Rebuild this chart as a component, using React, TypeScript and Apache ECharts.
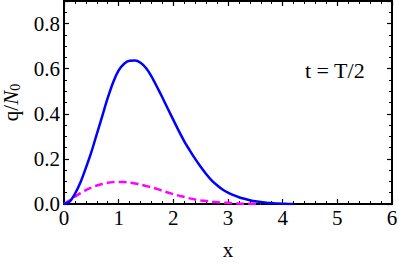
import React, { useEffect, useRef } from "react";
import * as echarts from "echarts";

const xs = [0, 0.1, 0.2, 0.3, 0.4, 0.5, 0.6, 0.7, 0.8, 0.9, 1.0, 1.1, 1.2, 1.3, 1.4, 1.5, 1.6, 1.7, 1.8, 1.9, 2.0, 2.1, 2.2, 2.3, 2.4, 2.5, 2.6, 2.7, 2.8, 2.9, 3.0, 3.1, 3.2, 3.3, 3.4, 3.5, 3.6, 3.7, 3.8, 3.9, 4.0, 4.1, 4.2];
const blueVals = [0, 0.01, 0.045, 0.095, 0.16, 0.23, 0.31, 0.39, 0.47, 0.54, 0.592, 0.622, 0.635, 0.636, 0.626, 0.603, 0.566, 0.52, 0.472, 0.422, 0.373, 0.324, 0.278, 0.238, 0.2, 0.165, 0.133, 0.105, 0.083, 0.064, 0.05, 0.039, 0.03, 0.023, 0.017, 0.012, 0.009, 0.006, 0.004, 0.002, 0.001, 0.0005, 0];
const magentaVals = [0, 0.015, 0.032, 0.048, 0.062, 0.073, 0.082, 0.089, 0.094, 0.097, 0.098, 0.097, 0.095, 0.091, 0.086, 0.08, 0.074, 0.067, 0.059, 0.051, 0.044, 0.037, 0.031, 0.025, 0.02, 0.016, 0.013, 0.01, 0.008, 0.006, 0.005, 0.0035, 0.002, 0.0015, 0.001, 0.0005, 0];
const xTicks = [0, 1, 2, 3, 4, 5, 6];
const yTickLabels = ["0.0", "0.2", "0.4", "0.6", "0.8"];
const annotation = "t = T/2";

const FONT = "Liberation Serif";

export default function App() {
  const ref = useRef<HTMLDivElement>(null);
  useEffect(() => {
    if (!ref.current) return;
    const chart = echarts.init(ref.current, null, { renderer: "svg" });
    const tickCommon = {
      axisLine: { show: true, onZero: false, lineStyle: { color: "#000", width: 2 } },
      axisTick: { show: true, inside: true, length: 5, lineStyle: { color: "#000", width: 1.2 } },
      minorTick: { show: true, length: 3, lineStyle: { color: "#000", width: 1 } },
      splitLine: { show: false },
    };
    chart.setOption({
      animation: false,
      textStyle: { fontFamily: FONT },
      grid: { left: 64, right: 7, top: 1, bottom: 61, containLabel: false, outerBoundsMode: "none" },
      xAxis: [
        {
          type: "value", min: xTicks[0], max: xTicks[xTicks.length - 1], interval: 1,
          position: "bottom",
          ...tickCommon,
          minorTick: { ...tickCommon.minorTick, splitNumber: 5 },
          axisLabel: { fontFamily: FONT, fontSize: 21, color: "#000", margin: 3, formatter: (v: number) => String(v) },
          name: "x", nameLocation: "middle", nameGap: 35,
          nameTextStyle: { fontFamily: FONT, fontSize: 21, color: "#000" },
        },
        {
          type: "value", min: xTicks[0], max: xTicks[xTicks.length - 1], interval: 1,
          position: "top",
          ...tickCommon,
          minorTick: { ...tickCommon.minorTick, splitNumber: 5 },
          axisLabel: { show: false },
        },
      ],
      yAxis: [
        {
          type: "value", min: 0, max: 0.9, interval: 0.2,
          position: "left",
          ...tickCommon,
          minorTick: { ...tickCommon.minorTick, splitNumber: 4 },
          axisLabel: {
            fontFamily: FONT, fontSize: 21, color: "#000", margin: 4,
            formatter: (v: number) => { const i = Math.round(v / 0.2); return Math.abs(v - i * 0.2) < 1e-6 && i < yTickLabels.length ? yTickLabels[i] : ""; },
          },
          name: "{a|q/}{b|N}{c|0}", nameLocation: "middle", nameGap: 36, nameRotate: 90,
          nameTextStyle: {
            fontFamily: FONT, fontSize: 21, color: "#000",
            rich: {
              a: { fontFamily: FONT, fontSize: 21, color: "#000" },
              b: { fontFamily: FONT, fontSize: 21, fontStyle: "italic", color: "#000" },
              c: { fontFamily: FONT, fontSize: 14, color: "#000", padding: [10, 0, 0, 0] },
            },
          },
        },
        {
          type: "value", min: 0, max: 0.9, interval: 0.2,
          position: "right",
          ...tickCommon,
          minorTick: { ...tickCommon.minorTick, splitNumber: 4 },
          axisLabel: { show: false },
        },
      ],
      graphic: [
        {
          type: "text", left: 305, top: 59,
          style: { text: annotation, fontFamily: FONT, fontSize: 22, fill: "#000" },
        },
      ],
      series: [
        {
          type: "line", xAxisIndex: 0, yAxisIndex: 0, showSymbol: false, smooth: 0.3,
          lineStyle: { color: "#0000FF", width: 2.5 },
          data: blueVals.map((y, i) => [xs[i], y]),
          z: 3,
        },
        {
          type: "line", xAxisIndex: 0, yAxisIndex: 0, showSymbol: false, smooth: 0.3,
          lineStyle: { color: "#FF00FF", width: 2.5, type: [8, 4] },
          data: magentaVals.map((y, i) => [xs[i], y]),
          z: 2,
        },
      ],
    });
    return () => chart.dispose();
  }, []);
  return <div ref={ref} style={{ position: "absolute", left: 0, top: 0, width: 399, height: 265 }} />;
}
